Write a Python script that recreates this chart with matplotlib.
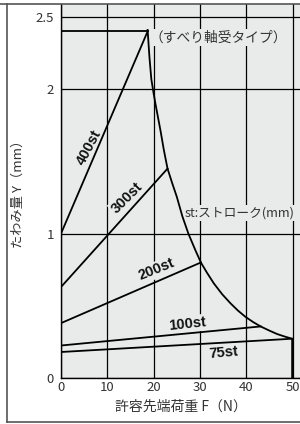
import matplotlib
matplotlib.use("Agg")
import matplotlib.pyplot as plt
from matplotlib.lines import Line2D

plt.rcParams['font.family'] = ['Noto Sans CJK JP', 'DejaVu Sans']

# max deflection plateau and stroke lines (F in N, Y in mm)
top_F = [0, 18.7]
top_Y = [2.4, 2.4]

stroke_names = ['400st', '300st', '200st', '100st', '75st']
stroke_F = [[0, 18.7], [0, 23.0], [0, 30.2], [0, 43.1], [0, 49.9]]
stroke_Y = [[1.0, 2.4], [0.63, 1.45], [0.38, 0.80], [0.225, 0.357], [0.18, 0.272]]

# limit curve
env_F = [18.7, 19.1, 19.5, 20.0, 20.5, 21.5, 22.2, 23.0, 24.0, 25.0, 26.2, 27.5, 29.0,
         30.2, 31.5, 33.0, 34.8, 36.6, 38.2, 39.8, 41.5, 43.1, 45.0, 46.7, 48.3, 49.9, 49.9]
env_Y = [2.41, 2.22, 2.07, 1.97, 1.88, 1.71, 1.58, 1.45, 1.35, 1.255, 1.12, 1.0, 0.886,
         0.80, 0.73, 0.655, 0.58, 0.517, 0.467, 0.424, 0.387, 0.357, 0.328, 0.304, 0.287, 0.272, 0.0]

# label placement (x, y, rotation)
label_pos = [(6.05, 1.60, 62), (14.25, 1.25, 45), (20.7, 0.75, 22), (27.2, 0.373, 6), (35.2, 0.173, 5)]

x_ticks = [0, 10, 20, 30, 40, 50]
y_ticks = [0, 1, 2, 2.5]
y_tick_labels = ['0', '1', '2', '2.5']

bg = '#e9ebeb'
txt = '#333333'

fig = plt.figure(figsize=(3.0, 4.24), dpi=100)
ax = fig.add_axes([61 / 300, 46 / 424, 239 / 300, 374 / 424])
ax.set_facecolor(bg)

ax.set_xlim(0, 51.6)
ax.set_ylim(0, 2.59)
ax.set_xticks(x_ticks)
ax.set_yticks(y_ticks)
ax.set_yticklabels(y_tick_labels)
ax.tick_params(length=0, labelsize=9.5, colors=txt)
ax.tick_params(axis='y', pad=5)
ax.tick_params(axis='x', pad=2)
ax.set_axisbelow(True)
ax.grid(True, color='black', lw=0.9)

for s in ['top', 'right']:
    ax.spines[s].set_visible(False)
for s in ['left', 'bottom']:
    ax.spines[s].set_linewidth(1.0)

lw = 1.3
ax.plot(top_F, top_Y, color='black', lw=lw, zorder=4)
ax.plot(env_F, env_Y, color='black', lw=lw, zorder=4)
for f, y in zip(stroke_F, stroke_Y):
    ax.plot(f, y, color='black', lw=lw, zorder=4)

box = dict(facecolor=bg, edgecolor='none', pad=1.0)
for name, (x, y, r) in zip(stroke_names, label_pos):
    ax.text(x, y, name, rotation=r, ha='center', va='center', fontsize=10.5,
            fontweight='bold', family=['Liberation Sans', 'DejaVu Sans'],
            color='#111111', bbox=box, zorder=3, rotation_mode='anchor')

ax.text(19.0, 2.36, '（すべり軸受タイプ）', ha='left', va='center', fontsize=9.9,
        color=txt, bbox=box, zorder=3)
ax.text(26.6, 1.14, 'st:ストローク(mm)', ha='left', va='center', fontsize=9.2,
        color=txt, bbox=box, zorder=3)

ax.set_xlabel('許容先端荷重 F（N）', fontsize=10, color=txt, labelpad=4)
ax.set_ylabel('たわみ量 Y（mm）', fontsize=9.5, color=txt, labelpad=8)

# outer frame
fig.add_artist(Line2D([0, 1], [1 - 4 / 424, 1 - 4 / 424], color='#555555', lw=1.2))
fig.add_artist(Line2D([7 / 300, 7 / 300], [2 / 424, 1 - 4 / 424], color='#555555', lw=1.2))
fig.add_artist(Line2D([7 / 300, 1], [2 / 424, 2 / 424], color='#555555', lw=1.2))

fig.savefig('out.png', dpi=100)
